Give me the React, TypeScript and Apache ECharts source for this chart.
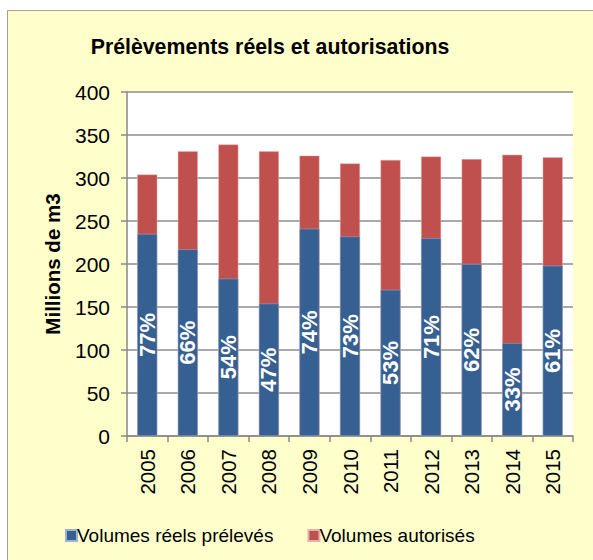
import React, { useEffect, useRef } from "react";
import * as echarts from "echarts";

const years = ["2005", "2006", "2007", "2008", "2009", "2010", "2011", "2012", "2013", "2014", "2015"];
const realVolumes = [235, 217, 183, 154, 241, 232, 170, 230, 200, 108, 198];
const authorizedVolumes = [304, 331, 339, 331, 326, 317, 321, 325, 322, 327, 324];
const pctLabels = ["77%", "66%", "54%", "47%", "74%", "73%", "53%", "71%", "62%", "33%", "61%"];

const FONT = "'Liberation Sans', Arial, sans-serif";

export default function App() {
  const ref = useRef<HTMLDivElement>(null);
  useEffect(() => {
    if (!ref.current) return;
    const chart = echarts.init(ref.current, null, { renderer: "svg" });
    chart.setOption({
      animation: false,
      backgroundColor: "#ffffff",
      textStyle: { fontFamily: FONT },
      graphic: [
        {
          type: "rect",
          z: -10,
          silent: true,
          shape: { x: 7.5, y: 10.5, width: 600, height: 600 },
          style: { fill: "#FFFFCC", stroke: "#A0A0A0", lineWidth: 1 },
        },
      ],
      title: {
        text: "Prélèvements réels et autorisations",
        left: 265,
        top: 31,
        textAlign: "center",
        textStyle: { fontFamily: FONT, fontSize: 21.3, fontWeight: "bold", color: "#000" },
      },
      legend: {
        data: ["Volumes réels prélevés", "Volumes autorisés"],
        left: 60,
        top: 521,
        itemWidth: 11,
        itemHeight: 11,
        itemGap: 34,
        icon: "rect",
        textStyle: { fontFamily: FONT, fontSize: 19, color: "#000", padding: [0, 0, 0, -5] },
      },
      grid: { left: 127, right: 20, top: 92, bottom: 124, show: true, backgroundColor: "#ffffff", borderWidth: 0 },
      xAxis: {
        type: "category",
        data: years,
        axisLine: { lineStyle: { color: "#888888", width: 1.5 } },
        axisTick: { show: true, length: 6, lineStyle: { color: "#888888", width: 1.5 } },
        axisLabel: { rotate: 90, fontSize: 20.5, color: "#000", margin: 13, fontFamily: FONT },
      },
      yAxis: {
        type: "value",
        min: 0,
        max: 400,
        interval: 50,
        name: "Millions de m3",
        nameLocation: "middle",
        nameGap: 64,
        nameRotate: 90,
        nameTextStyle: { fontFamily: FONT, fontSize: 20.5, fontWeight: "bold", color: "#000" },
        axisLine: { show: true, lineStyle: { color: "#888888", width: 1.5 } },
        axisTick: { show: true, length: 6, lineStyle: { color: "#888888", width: 1.5 } },
        splitLine: { lineStyle: { color: "#8C8C8C", width: 1.5 } },
        axisLabel: { fontSize: 21, color: "#000", margin: 17, fontFamily: FONT },
      },
      series: [
        {
          name: "Volumes autorisés",
          type: "bar",
          data: authorizedVolumes,
          barWidth: 20,
          z: 2,
          itemStyle: { color: "#C0504D", borderColor: "#E6B0AE", borderWidth: 0.5 },
        },
        {
          name: "Volumes réels prélevés",
          type: "bar",
          data: realVolumes,
          barWidth: 20,
          barGap: "-100%",
          z: 3,
          itemStyle: { color: "#366092", borderColor: "#9DB3D0", borderWidth: 0.5 },
          label: {
            show: true,
            position: "inside",
            rotate: 90,
            color: "#ffffff",
            fontSize: 22,
            fontWeight: "bold",
            fontFamily: FONT,
            formatter: (p: any) => pctLabels[p.dataIndex],
          },
        },
      ],
    });
    return () => chart.dispose();
  }, []);
  return <div ref={ref} style={{ position: "absolute", left: 0, top: 0, width: 593, height: 560 }} />;
}
